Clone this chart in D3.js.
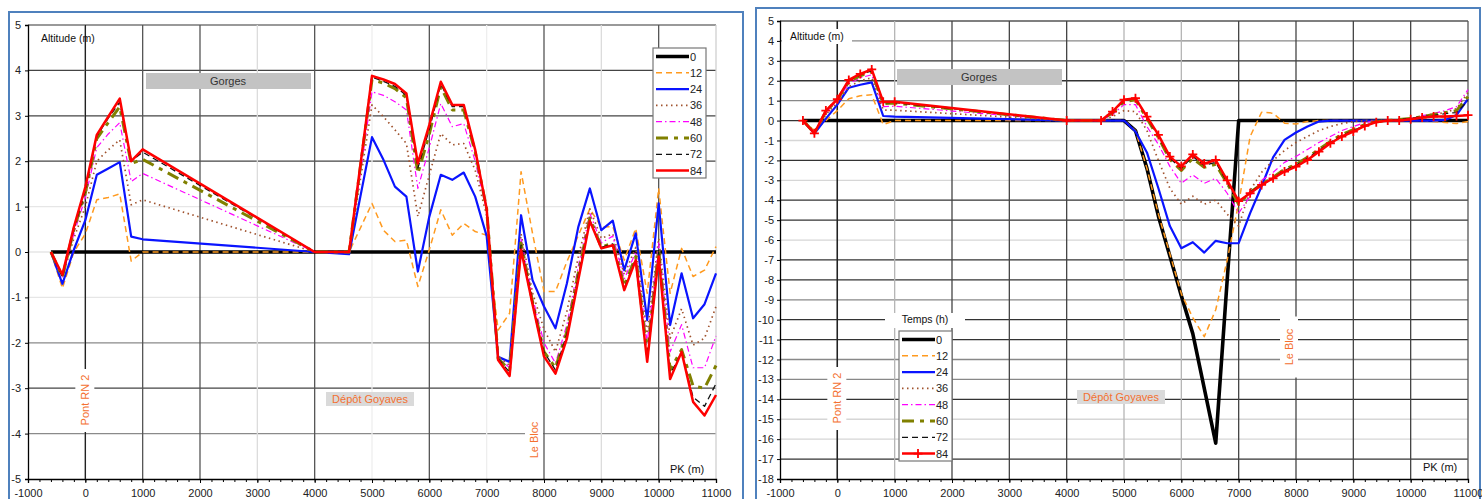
<!DOCTYPE html>
<html>
<head>
<meta charset="utf-8">
<script src="https://cdn.jsdelivr.net/npm/d3@7"></script>
<style>
  html, body { margin: 0; padding: 0; background: #fff; }
  svg { display: block; font-family: "Liberation Sans", Arial, sans-serif; }
</style>
</head>
<body>
<svg id="fig" width="1482" height="499"></svg>
<script>
// ---- Profil en long : PK (m) ----
const pkLeft = [-600,-400,-200,0,200,400,600,800,1000,4000,4600,
  5000,5200,5400,5600,5800,6000,6200,6400,6600,6800,7000,7200,7400,7600,7800,8000,
  8200,8400,8600,8800,9000,9200,9400,9600,9800,10000,10200,10400,10600,10800,11000];

const pkRight = [-600,-400,-200,0,200,400,600,800,1000,4000,4600,
  4800,5000,5200,5400,5600,5800,6000,6200,6400,6600,6800,7000,7200,7400,7600,7800,8000,
  8200,8400,8600,8800,9000,9200,9400,9600,9800,10000,10200,10400,10600,10800,11000];

// ---- Altitudes (m), graphique de gauche, par temps (h) ----
const leftH0 = [0,0,0,0,0,0,0,0,0,0,0,
  0,0,0,0,0,0,0,0,0,0,0,0,0,0,0,0,0,0,0,0,0,0,0,0,0,0,0,0,0,0,0];
const leftH12 = [0,-0.8,0.0,0.4,1.15,1.2,1.28,-0.2,0.0,0,0,
  1.07,0.48,0.23,0.26,-0.76,0.05,0.93,0.37,0.63,0.45,0.37,
  -1.72,-1.35,1.77,0.41,-0.87,-0.87,-0.21,0.37,0.95,
  0.55,0.56,-0.18,0.52,-0.91,1.4,-0.91,0.08,-0.54,-0.4,0.12];
const leftH24 = [0,-0.7,0.05,0.7,1.7,1.84,1.98,0.34,0.28,0,-0.05,
  2.53,2.03,1.44,1.22,-0.43,0.78,1.7,1.59,1.75,1.22,0.35,
  -2.31,-2.42,0.81,-0.62,-1.2,-1.68,-0.69,0.56,1.4,
  0.48,0.69,-0.4,0.41,-1.5,1.07,-1.61,-0.47,-1.46,-1.15,-0.47];
const leftH36 = [0,-0.55,0.3,1.0,2.0,2.25,2.47,1.04,1.15,0,0,
  3.24,2.98,2.69,2.39,0.78,1.7,2.61,2.36,2.39,1.8,0.8,
  -2.3,-2.5,0.4,-0.9,-1.7,-2.2,-1.3,-0.1,0.95,
  0.3,0.4,-0.5,0.1,-1.8,0.3,-1.9,-1.25,-2.05,-1.9,-1.2];
const leftH48 = [0,-0.55,0.4,1.2,2.3,2.6,2.85,1.55,1.73,0,0,
  3.53,3.45,3.31,3.13,1.4,2.3,3.27,2.76,2.83,2.0,0.9,
  -2.33,-2.55,0.3,-1.0,-2.0,-2.45,-1.6,-0.3,0.85,
  0.2,0.35,-0.6,0.0,-2.0,0.2,-2.2,-1.6,-2.55,-2.55,-1.85];
const leftH60 = [0,-0.55,0.5,1.3,2.5,2.85,3.2,1.95,2.04,0,0,
  3.8,3.72,3.6,3.4,1.73,2.6,3.64,3.13,3.13,2.2,0.95,
  -2.35,-2.6,0.2,-1.1,-2.2,-2.55,-1.75,-0.45,0.75,
  0.1,0.2,-0.75,-0.1,-2.25,0.05,-2.6,-2.15,-2.95,-3.0,-2.5];
const leftH72 = [0,-0.55,0.5,1.35,2.55,2.95,3.3,2.0,2.2,0,0,
  3.85,3.76,3.65,3.45,1.85,2.7,3.7,3.2,3.2,2.22,0.95,
  -2.35,-2.65,0.15,-1.1,-2.2,-2.6,-1.8,-0.5,0.7,
  0.1,0.18,-0.8,-0.15,-2.3,0.0,-2.7,-2.2,-3.2,-3.4,-2.9];
const leftH84 = [0,-0.5,0.55,1.43,2.58,2.98,3.38,2.0,2.26,0,0,
  3.88,3.8,3.7,3.49,1.95,2.8,3.75,3.24,3.24,2.25,0.95,
  -2.38,-2.73,0.05,-1.15,-2.3,-2.68,-1.9,-0.6,0.68,
  0.08,0.15,-0.84,-0.18,-2.42,-0.1,-2.8,-2.2,-3.3,-3.6,-3.15];

// ---- Altitudes (m), graphique de droite, par temps (h) ----
const rightH0 = [0,0,0,0,0,0,0,0,0,0,0,
  0,0,-0.5,-2.4,-4.8,-6.8,-8.8,-10.7,-13.45,-16.2,-8.0,0,
  0,0,0,0,0,0,0,0,0,0,0,0,0,0,0,0,0,0,0,0];
const rightH12 = [0,-0.5,0.0,0.5,1.1,1.25,1.3,-0.2,0.0,0,0,
  0,0,-0.5,-2.4,-4.7,-6.7,-8.7,-9.9,-10.85,-9.5,-7.0,-4.15,
  -0.8,0.42,0.37,-0.13,-0.17,-0.05,0,0,0,0,0,0,0,0,0,0,-0.05,-0.1,-0.15,-0.05];
const rightH24 = [0,-0.65,0.1,0.8,1.65,1.8,1.92,0.23,0.2,0,0,
  0,0,-0.55,-1.6,-3.4,-5.3,-6.41,-6.11,-6.63,-6.04,-6.16,-6.16,
  -4.65,-3.3,-1.85,-0.97,-0.6,-0.3,-0.05,0,0,0,0,0,0,0,0,0,0,0.03,0.28,1.09];
const rightH36 = [0,-0.6,0.3,0.9,1.7,2.0,2.15,0.53,0.52,0,0,
  0.2,0.5,0.45,-0.5,-2.0,-3.4,-4.2,-3.8,-4.2,-4.0,-4.7,-5.3,
  -3.5,-2.6,-2.0,-1.5,-1.1,-0.8,-0.5,-0.3,-0.15,-0.05,0,0,0,0.05,0.1,0.2,0.3,0.4,0.6,1.4];
const rightH48 = [0,-0.6,0.4,1.0,1.85,2.15,2.3,0.7,0.72,0,0,
  0.3,0.8,0.8,-0.3,-1.2,-2.3,-3.15,-2.73,-3.15,-2.9,-3.65,-4.65,
  -3.8,-3.0,-2.6,-2.1,-1.8,-1.45,-1.1,-0.8,-0.5,-0.3,-0.1,0,0,0.05,0.1,0.25,0.35,0.5,0.7,1.55];
const rightH60 = [0,-0.62,0.45,1.05,1.95,2.25,2.45,0.85,0.88,0,0,
  0.4,0.95,1.05,0.1,-0.85,-1.95,-2.5,-1.9,-2.35,-2.2,-3.15,-4.2,
  -3.6,-3.2,-2.85,-2.45,-2.2,-1.85,-1.45,-1.05,-0.7,-0.45,-0.2,-0.05,0,0.05,0.1,0.2,0.3,0.4,0.5,1.2];
const rightH72 = [0,-0.63,0.48,1.06,2.0,2.3,2.5,0.9,0.9,0,0,
  0.42,1.0,1.1,0.15,-0.8,-1.9,-2.4,-1.8,-2.25,-2.1,-3.1,-4.1,
  -3.6,-3.2,-2.9,-2.5,-2.25,-1.9,-1.5,-1.1,-0.75,-0.5,-0.25,-0.05,0,0.05,0.1,0.2,0.25,0.35,0.4,1.0];
const rightH84 = [0,-0.64,0.5,1.07,2.04,2.34,2.57,0.94,0.94,0,0,
  0.45,1.05,1.12,0.2,-0.72,-1.81,-2.3,-1.7,-2.16,-1.98,-3.0,-4.05,
  -3.65,-3.23,-2.9,-2.56,-2.31,-1.98,-1.56,-1.14,-0.8,-0.55,-0.27,-0.08,0,0,0.07,0.15,0.2,0.2,0.23,0.27];

// ---- Légende et graduations ----
const hours = ["0","12","24","36","48","60","72","84"];
const xTicks = [-1000,0,1000,2000,3000,4000,5000,6000,7000,8000,9000,10000,11000];
const leftYTicks = [5,4,3,2,1,0,-1,-2,-3,-4,-5];
const rightYTicks = [5,4,3,2,1,0,-1,-2,-3,-4,-5,-6,-7,-8,-9,-10,-11,-12,-13,-14,-15,-16,-17,-18];

// ---- Styles des courbes ----
const lineStyle = {
  "0":  { color: "#000000", width: 3.6, dash: null },
  "12": { color: "#ff9a1f", width: 1.5, dash: "6,4" },
  "24": { color: "#0a14ff", width: 2.2, dash: null },
  "36": { color: "#a0522d", width: 1.7, dash: "1.5,3.5" },
  "48": { color: "#ff00ff", width: 1.2, dash: "6,3,1.5,3" },
  "60": { color: "#808000", width: 3.0, dash: "12,6,4,6" },
  "72": { color: "#111111", width: 1.3, dash: "6,4" },
  "84": { color: "#ff0000", width: 2.5, dash: null }
};
const annotColor = "#f47030";
const frameColor = "#4f81bd";

const svg = d3.select("#fig");

function drawChart(cfg) {
  const g = svg.append("g");
  const x = d3.scaleLinear().domain([-1000, 11000]).range([cfg.left, cfg.right]);
  const y = d3.scaleLinear().domain([cfg.yTicks[0], cfg.yTicks[cfg.yTicks.length - 1]]).range([cfg.top, cfg.bottom]);

  // chart frame
  g.append("rect").attr("x", cfg.frame[0]).attr("y", cfg.frame[1])
    .attr("width", cfg.frame[2] - cfg.frame[0]).attr("height", 520)
    .attr("fill", "none").attr("stroke", frameColor).attr("stroke-width", 2);

  // horizontal grid
  cfg.yTicks.forEach(v => {
    if (v === cfg.yTicks[cfg.yTicks.length - 1]) return;
    g.append("line")
      .attr("x1", cfg.left).attr("x2", cfg.right)
      .attr("y1", y(v)).attr("y2", y(v))
      .attr("stroke", cfg.hShade(v)).attr("stroke-width", 1.3);
  });
  // vertical grid
  xTicks.forEach(v => {
    if (v === -1000) return;
    const shade = cfg.vShade(v);
    if (!shade) return;
    g.append("line")
      .attr("x1", x(v)).attr("x2", x(v))
      .attr("y1", cfg.top).attr("y2", cfg.bottom)
      .attr("stroke", shade).attr("stroke-width", 1.3);
  });

  // axes
  const xAxis = d3.axisBottom(x).tickValues(xTicks).tickSize(4).tickPadding(6).tickFormat(d => String(d));
  const xMinor = d3.axisBottom(x).tickValues(d3.range(-1000, 11001, 200)).tickSize(3).tickFormat("");
  const yAxis = d3.axisLeft(y).tickValues(cfg.yTicks).tickSize(3).tickPadding(cfg.yPad).tickFormat(d => String(d));

  const gx = g.append("g").attr("transform", `translate(0,${cfg.bottom})`).call(xAxis);
  g.append("g").attr("transform", `translate(0,${cfg.bottom})`).call(xMinor).select(".domain").remove();
  const gy = g.append("g").attr("transform", `translate(${cfg.left},0)`).call(yAxis);
  [gx, gy].forEach(a => {
    a.selectAll("text").attr("font-size", 11).attr("fill", "#222").attr("font-family", "Liberation Sans, Arial, sans-serif");
    a.select(".domain").attr("stroke", "#000").attr("stroke-width", 1.3);
    a.selectAll(".tick line").attr("stroke", "#000");
  });

  // annotations: Gorges, Dépôt Goyaves
  g.append("rect").attr("x", cfg.gorges[0]).attr("y", cfg.gorges[1]).attr("width", 165).attr("height", 16).attr("fill", "#c3c3c3");
  g.append("text").attr("x", cfg.gorges[0] + 82).attr("y", cfg.gorges[1] + 12).attr("text-anchor", "middle")
    .attr("font-size", 11).attr("fill", "#333").text("Gorges");
  g.append("rect").attr("x", cfg.depot[0]).attr("y", cfg.depot[1]).attr("width", 88).attr("height", 14).attr("fill", "#dadada");
  g.append("text").attr("x", cfg.depot[0] + 44).attr("y", cfg.depot[1] + 11).attr("text-anchor", "middle")
    .attr("font-size", 11).attr("fill", annotColor).text("Dépôt Goyaves");

  // annotation: Pont RN 2 (line at PK 0)
  g.append("line").attr("x1", x(0)).attr("x2", x(0)).attr("y1", cfg.top).attr("y2", cfg.bottom)
    .attr("stroke", "#222").attr("stroke-width", 1.4);
  g.append("rect").attr("x", x(0) - 10).attr("y", cfg.pont - 31).attr("width", 19).attr("height", 63).attr("fill", "#fff");
  g.append("text").attr("transform", `translate(${x(0) + 4},${cfg.pont}) rotate(-90)`).attr("text-anchor", "middle")
    .attr("font-size", 11).attr("fill", annotColor).text("Pont RN 2");

  // annotation: Le Bloc
  g.append("rect").attr("x", cfg.bloc[0] - 9).attr("y", cfg.bloc[1] - cfg.blocH / 2).attr("width", 18).attr("height", cfg.blocH).attr("fill", "#fff");
  g.append("text").attr("transform", `translate(${cfg.bloc[0] + 4},${cfg.bloc[1]}) rotate(-90)`).attr("text-anchor", "middle")
    .attr("font-size", 11).attr("fill", annotColor).text("Le Bloc");

  // axis titles
  if (cfg.altBg) {
    g.append("rect").attr("x", cfg.left + 2).attr("y", cfg.alt[1] - 11).attr("width", cfg.alt[0] - cfg.left + 60).attr("height", 15).attr("fill", "#fff");
  }
  g.append("text").attr("x", cfg.alt[0]).attr("y", cfg.alt[1]).attr("font-size", 10.5).attr("fill", "#111").text("Altitude (m)");
  g.append("text").attr("x", cfg.pkLab[0]).attr("y", cfg.pkLab[1]).attr("font-size", 11).attr("fill", "#111").text("PK (m)");

  // series
  const line = d3.line().x(d => x(d[0])).y(d => y(d[1]));
  cfg.series.forEach((vals, i) => {
    const st = lineStyle[hours[i]];
    const pts = cfg.pk.map((p, k) => [p, vals[k]]);
    g.append("path").datum(pts).attr("d", line)
      .attr("fill", "none").attr("stroke", st.color).attr("stroke-width", st.width)
      .attr("stroke-dasharray", st.dash).attr("stroke-linejoin", "round");
    if (cfg.markers && hours[i] === "84") {
      g.selectAll(null).data(pts).enter().append("path")
        .attr("transform", d => `translate(${x(d[0])},${y(d[1])})`)
        .attr("d", "M-4.5,0H4.5M0,-4.5V4.5")
        .attr("stroke", st.color).attr("stroke-width", 1.8);
    }
  });

  // legend
  const L = cfg.legend;
  if (L.title) {
    g.append("rect").attr("x", L.x - 14).attr("y", L.y - 18).attr("width", 80).attr("height", 15).attr("fill", "#fff");
    g.append("text").attr("x", L.x + 26).attr("y", L.y - 8).attr("text-anchor", "middle").attr("font-size", 10.5).attr("fill", "#111").text(L.title);
  }
  g.append("rect").attr("x", L.x).attr("y", L.y).attr("width", 53).attr("height", 130)
    .attr("fill", "#fff").attr("stroke", "#777").attr("stroke-width", 1.2);
  hours.forEach((h, i) => {
    const st = lineStyle[h];
    const yy = L.y + 8.5 + i * 16.3;
    g.append("line").attr("x1", L.x + 3).attr("x2", L.x + 36).attr("y1", yy).attr("y2", yy)
      .attr("stroke", st.color).attr("stroke-width", st.width).attr("stroke-dasharray", st.dash);
    if (cfg.markers && h === "84") {
      g.append("path").attr("transform", `translate(${L.x + 19},${yy})`).attr("d", "M-4.5,0H4.5M0,-4.5V4.5")
        .attr("stroke", st.color).attr("stroke-width", 1.8);
    }
    g.append("text").attr("x", L.x + 37).attr("y", yy + 4).attr("font-size", 11).attr("fill", "#222").text(h);
  });
}

// left chart
drawChart({
  frame: [9, 12, 743],
  left: 28, right: 716, top: 25, bottom: 479,
  yTicks: leftYTicks, yPad: 4,
  pk: pkLeft,
  series: [leftH0, leftH12, leftH24, leftH36, leftH48, leftH60, leftH72, leftH84],
  hShade: v => v === 5 ? "#777" : ([4, 3, 2, -3].includes(v) ? "#444" : ([-2, -4].includes(v) ? "#8a8a8a" : "#e6e6e6")),
  vShade: v => v === 11000 ? "#cfcfcf" : ([1000, 2000, 4000, 6000, 8000, 10000].includes(v) ? "#555" : ([3000, 9000].includes(v) ? "#dcdcdc" : "#eeeeee")),
  gorges: [146, 73], depot: [326, 392],
  pont: 400, bloc: [534, 440], blocH: 42,
  alt: [41, 42], altBg: false,
  pkLab: [670, 473],
  legend: { x: 653, y: 48 },
  markers: false
});

// right chart
drawChart({
  frame: [756, 8, 1480],
  left: 780, right: 1468, top: 21, bottom: 479,
  yTicks: rightYTicks, yPad: 3,
  pk: pkRight,
  series: [rightH0, rightH12, rightH24, rightH36, rightH48, rightH60, rightH72, rightH84],
  hShade: v => {
    if (v === 5) return "#555";
    if ([-1, -3, -6, -15, -16].includes(v)) return "#d6d6d6";
    if ([4, 1, -9, -12, -13].includes(v)) return "#888";
    return "#333";
  },
  vShade: v => v === 11000 ? "#555" : ([1000, 5000, 6000].includes(v) ? "#b5b5b5" : "#444"),
  gorges: [897, 69], depot: [1077, 390],
  pont: 398, bloc: [1289, 347], blocH: 61,
  alt: [790, 40], altBg: true,
  pkLab: [1423, 471],
  legend: { x: 899, y: 331, title: "Temps (h)" },
  markers: true
});
</script>
</body>
</html>
